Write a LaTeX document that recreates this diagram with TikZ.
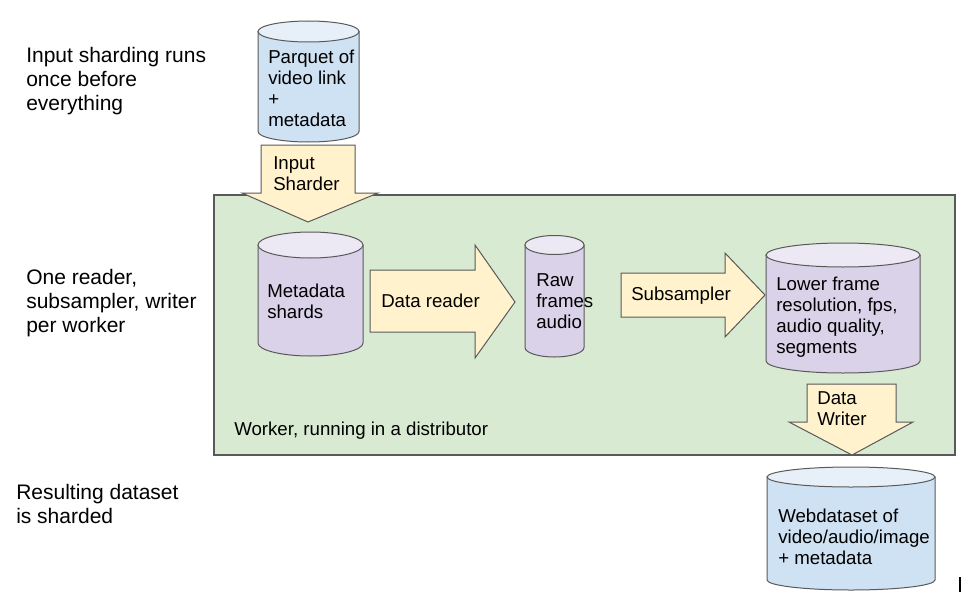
\documentclass[tikz,border=0pt]{standalone}
\usepackage{fontspec}
\setmainfont{Liberation Sans}

\definecolor{edgegray}{HTML}{595959}
\definecolor{workergreen}{HTML}{D9EAD3}
\definecolor{stepyellow}{HTML}{FFF2CC}
\definecolor{storeblue}{HTML}{CFE2F3}
\definecolor{storepurple}{HTML}{D9D2E9}

\tikzset{
	every node/.style={font=\fontsize{14}{15.75}\selectfont, inner sep=0pt, align=left, anchor=north west},
	sidenote/.style={font=\fontsize{15.75}{18}\selectfont},
	workerbox/.style={fill=workergreen, draw=edgegray, line width=0.9pt},
	blockarrow/.style={fill=stepyellow, draw=edgegray, line width=0.75pt, line join=miter},
	bluebody/.style={fill=storeblue, draw=edgegray, line width=0.75pt},
	bluetop/.style={fill=storeblue!50!white, draw=edgegray, line width=0.75pt},
	purplebody/.style={fill=storepurple, draw=edgegray, line width=0.75pt},
	purpletop/.style={fill=storepurple!50!white, draw=edgegray, line width=0.75pt},
}

\begin{document}
\begin{tikzpicture}[x=0.75pt, y=-0.75pt]
	\useasboundingbox (0,0) rectangle (977,610);
	
	% worker area
	\draw [workerbox] (214,195) rectangle (955,455);
	\node (workerlabel) at (234,422) {Worker, running in a distributor};
	
	% notes on the left
	\node [sidenote] (notesharding) at (26,47) {Input sharding runs\\once before\\everything};
	\node [sidenote] (noteworker) at (26,269) {One reader,\\subsampler, writer\\per worker};
	\node [sidenote] (noteresult) at (16,484.5) {Resulting dataset\\is sharded};
	
	% parquet input
	\draw [bluebody] (258,31.5) -- (258,131.5) arc [start angle=180, end angle=0, x radius=50.5, y radius=10.5] -- (359,31.5) -- cycle;
	\draw [bluetop] (308.5,31.5) ellipse [x radius=50.5, y radius=10.5];
	\node (parquet) at (268,49.5) {Parquet of\\video link\\+\\metadata};
	
	% input sharder
	\draw [blockarrow] (261,145) -- (355,145) -- (355,193) -- (378,193) -- (308,222) -- (242,193) -- (261,193) -- cycle;
	\node (sharder) at (273,156) {Input\\Sharder};
	
	% metadata shards
	\draw [purplebody] (258,245) -- (258,343) arc [start angle=180, end angle=0, x radius=52.5, y radius=13] -- (363,245) -- cycle;
	\draw [purpletop] (310.5,245) ellipse [x radius=52.5, y radius=13];
	\node (shards) at (267,284) {Metadata\\shards};
	
	% data reader
	\draw [blockarrow] (370,270) -- (475,270) -- (475,245) -- (515,302) -- (475,358) -- (475,332) -- (370,332) -- cycle;
	\node (reader) at (381,294) {Data reader};
	
	% raw frames
	\draw [purplebody] (525,245) -- (525,347.5) arc [start angle=180, end angle=0, x radius=29.5, y radius=9.5] -- (584,245) -- cycle;
	\draw [purpletop] (554.5,245) ellipse [x radius=29.5, y radius=9.5];
	\node (raw) at (536,273) {Raw\\frames\\audio};
	
	% subsampler
	\draw [blockarrow] (621,273) -- (725,273) -- (725,253) -- (765,295) -- (725,337) -- (725,317) -- (621,317) -- cycle;
	\node (subsampler) at (631,287) {Subsampler};
	
	% subsampled output
	\draw [purplebody] (766,255) -- (766,361) arc [start angle=180, end angle=0, x radius=77, y radius=12] -- (920,255) -- cycle;
	\draw [purpletop] (843,255) ellipse [x radius=77, y radius=12];
	\node (lowres) at (776,277) {Lower frame\\resolution, fps,\\audio quality,\\segments};
	
	% data writer
	\draw [blockarrow] (807,384) -- (896,384) -- (896,422) -- (913,422) -- (852,455) -- (789,422) -- (807,422) -- cycle;
	\node (writer) at (817,391) {Data\\Writer};
	
	% resulting webdataset
	\draw [bluebody] (767,477) -- (767,580) arc [start angle=180, end angle=0, x radius=84, y radius=10] -- (935,477) -- cycle;
	\draw [bluetop] (851,477) ellipse [x radius=84, y radius=10];
	\node (webds) at (778,509) {Webdataset of\\video/audio/image\\+ metadata};
	
	\draw [line width=1.5pt] (960,577) -- (960,592);
\end{tikzpicture}
\end{document}
